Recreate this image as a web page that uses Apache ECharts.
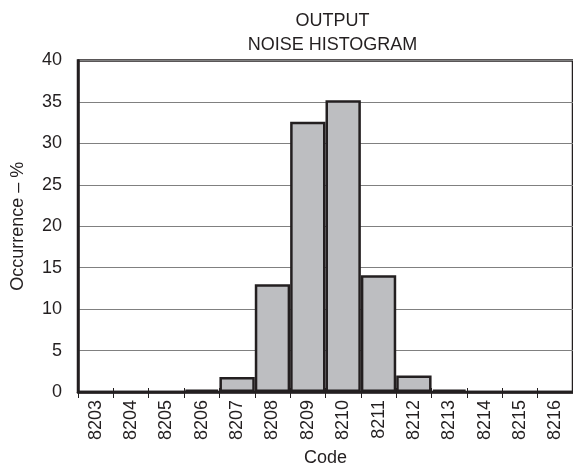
<!DOCTYPE html>
<html><head><meta charset="utf-8">
<script src="https://cdn.jsdelivr.net/npm/echarts@6/dist/echarts.min.js"></script>
<style>html,body{margin:0;padding:0;background:#fff}#c{width:573px;height:472px}</style>
</head><body><div id="c"></div>
<script>
const categories = ['8203','8204','8205','8206','8207','8208','8209','8210','8211','8212','8213','8214','8215','8216'];
const occurrence = [0, 0, 0, 0.3, 1.8, 13.0, 32.6, 35.2, 14.1, 2.0, 0.3, 0, 0, 0];
const titleLines = ['OUTPUT', 'NOISE HISTOGRAM'];
const yTitle = 'Occurrence – %';
const xTitle = 'Code';

const ink = '#231f20';
const font = 'Liberation Sans, Arial, sans-serif';
const fs = 18;
const chart = echarts.init(document.getElementById('c'), null, {renderer: 'canvas'});
chart.setOption({
  animation: false,
  title: {
    text: titleLines.join('\n'),
    left: 327.5, top: 4, textAlign: 'center',
    textStyle: {fontFamily: font, fontSize: fs, fontWeight: 'normal', color: ink, lineHeight: 24}
  },
  grid: {left: 78, right: -1, top: 60.5, bottom: 77, show: true, borderColor: ink, borderWidth: 2.5},
  xAxis: [{
    type: 'category', data: categories, position: 'bottom',
    axisLine: {show: true, lineStyle: {color: ink, width: 2.5}},
    axisTick: {show: true, length: 6, lineStyle: {color: ink, width: 1}},
    axisLabel: {rotate: 90, fontFamily: font, fontSize: fs, color: ink, margin: 8},
    name: xTitle, nameLocation: 'middle', nameGap: 57,
    nameTextStyle: {fontFamily: font, fontSize: fs, color: ink}
  }, {
    type: 'category', data: categories, position: 'bottom',
    axisLine: {show: false},
    axisTick: {show: true, inside: true, length: 4, lineStyle: {color: ink, width: 1}},
    axisLabel: {show: false}
  }],
  yAxis: {
    type: 'value', min: 0, max: 40, interval: 5,
    axisLine: {show: true, lineStyle: {color: ink, width: 2.5}},
    axisTick: {show: false},
    splitLine: {lineStyle: {color: '#808080', width: 1}},
    axisLabel: {fontFamily: font, fontSize: fs, color: ink, margin: 16},
    name: yTitle, nameLocation: 'middle', nameGap: 51, nameRotate: 90,
    nameTextStyle: {fontFamily: font, fontSize: fs, color: ink}
  },
  series: [{
    type: 'bar', data: occurrence, xAxisIndex: 0,
    barCategoryGap: '0%',
    itemStyle: {color: '#bdbec1', borderColor: ink, borderWidth: 2.5}
  }]
});
</script></body></html>
